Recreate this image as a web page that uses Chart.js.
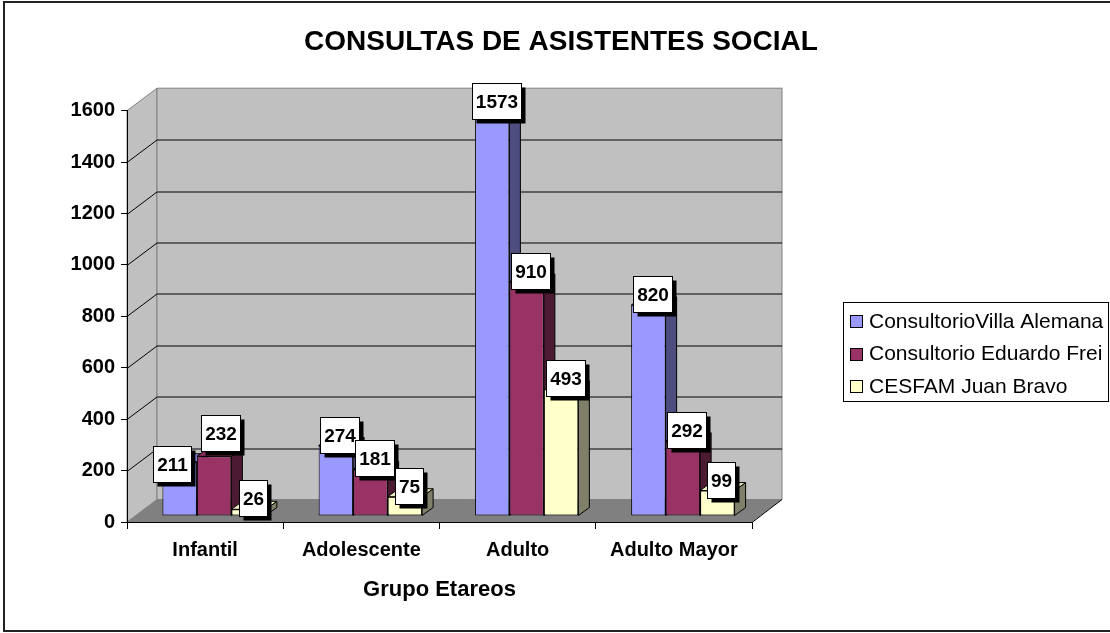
<!DOCTYPE html>
<html>
<head>
<meta charset="utf-8">
<script src="https://cdn.jsdelivr.net/npm/chart.js@4.4.0/dist/chart.umd.min.js"></script>
<style>
  body { margin: 0; background: #fff; }
  canvas { display: block; }
</style>
</head>
<body>
<canvas id="socialChart" width="1110" height="633"></canvas>
<script>
const categories = ['Infantil', 'Adolescente', 'Adulto', 'Adulto Mayor'];
const villaAlemana = [211, 274, 1573, 820];
const eduardoFrei = [232, 181, 910, 292];
const juanBravo = [26, 75, 493, 99];
const seriesNames = ['ConsultorioVilla Alemana', 'Consultorio Eduardo Frei', 'CESFAM Juan Bravo'];
const yTicks = [0, 200, 400, 600, 800, 1000, 1200, 1400, 1600];

const FONT = '"Liberation Sans", Arial, sans-serif';
const frontColors = ['#9999ff', '#993366', '#ffffcc'];
const sideColors = ['#4d4d80', '#4d1a33', '#80806a'];
const topColors = ['#8c8ce8', '#8a2e5c', '#ebebbc'];

const depth = { x: 30, y: -22.5 };   // depth of walls / floor
const shift = { x: 9, y: -6 };       // bars stand a bit back on the floor
const barDepth = { x: 11, y: -8 };   // depth of each column
// the two Infantil labels were moved apart in the original
const labelNudge = { '0-0': [-12, 13], '1-0': [2, -12] };

Chart.defaults.font.family = FONT;
Chart.defaults.color = '#000';

function poly(ctx, pts, fill, stroke) {
  ctx.beginPath();
  ctx.moveTo(pts[0][0], pts[0][1]);
  for (let i = 1; i < pts.length; i++) ctx.lineTo(pts[i][0], pts[i][1]);
  ctx.closePath();
  if (fill) { ctx.fillStyle = fill; ctx.fill(); }
  if (stroke) { ctx.strokeStyle = stroke; ctx.lineWidth = 1; ctx.stroke(); }
}

const wall3d = {
  id: 'wall3d',
  beforeDraw(chart) {
    const { ctx, chartArea: a } = chart;
    const ys = chart.scales.y;
    const dx = depth.x, dy = depth.y;
    ctx.save();
    // outer frame
    ctx.strokeStyle = '#222';
    ctx.lineWidth = 2;
    ctx.strokeRect(4, 2, 1120, 629);

    // left wall
    poly(ctx, [[a.left, a.top], [a.left + dx, a.top + dy], [a.left + dx, a.bottom + dy], [a.left, a.bottom]], '#c0c0c0', '#808080');
    // back wall
    poly(ctx, [[a.left + dx, a.top + dy], [a.right + dx, a.top + dy], [a.right + dx, a.bottom + dy], [a.left + dx, a.bottom + dy]], '#c0c0c0', '#808080');
    // floor
    poly(ctx, [[a.left, a.bottom], [a.right, a.bottom], [a.right + dx, a.bottom + dy], [a.left + dx, a.bottom + dy]], '#808080', null);
    ctx.strokeStyle = '#000';
    ctx.lineWidth = 1;
    ctx.beginPath();
    ctx.moveTo(a.right, a.bottom + 0.5);
    ctx.lineTo(a.right + dx, a.bottom + dy);
    ctx.stroke();

    // gridlines on the walls
    yTicks.forEach(v => {
      if (v === 0 || v === yTicks[yTicks.length - 1]) return;
      const y = Math.round(ys.getPixelForValue(v)) + 0.5;
      ctx.strokeStyle = '#000';
      ctx.beginPath();
      ctx.moveTo(a.left, y);
      ctx.lineTo(a.left + dx, y + dy);
      ctx.lineTo(a.right + dx, y + dy);
      ctx.stroke();
    });
    ctx.restore();
  },
  beforeDatasetDraw() {
    return false;
  },
  afterDatasetsDraw(chart) {
    const { ctx } = chart;
    const bx = barDepth.x, by = barDepth.y;
    ctx.save();
    ctx.translate(shift.x, shift.y);
    chart.data.datasets.forEach((ds, i) => {
      chart.getDatasetMeta(i).data.forEach(bar => {
        bar.draw(ctx);
        const { x, y, base, width } = bar.getProps(['x', 'y', 'base', 'width'], true);
        const l = x - width / 2, r = x + width / 2;
        poly(ctx, [[r, y], [r + bx, y + by], [r + bx, base + by], [r, base]], sideColors[i], '#000');
        poly(ctx, [[l, y], [l + bx, y + by], [r + bx, y + by], [r, y]], topColors[i], '#000');
      });
    });
    ctx.restore();

    // value labels
    ctx.save();
    ctx.font = 'bold 19px ' + FONT;
    ctx.textAlign = 'center';
    ctx.textBaseline = 'middle';
    chart.data.datasets.forEach((ds, i) => {
      chart.getDatasetMeta(i).data.forEach((bar, j) => {
        const { x, y } = bar.getProps(['x', 'y'], true);
        const n = labelNudge[i + '-' + j] || [0, 0];
        const cx = x + shift.x + 4 + n[0];
        const cy = y + shift.y - 11 + n[1];
        const text = String(ds.data[j]);
        const w = Math.round(ctx.measureText(text).width + 7), h = 36;
        const bl = Math.round(cx - w / 2) + 0.5, bt = Math.round(cy - h / 2) + 0.5;
        ctx.fillStyle = '#000';
        ctx.fillRect(bl + 4, bt + 4, w, h);
        ctx.fillStyle = '#fff';
        ctx.fillRect(bl, bt, w, h);
        ctx.strokeStyle = '#000';
        ctx.lineWidth = 1;
        ctx.strokeRect(bl, bt, w, h);
        ctx.fillStyle = '#000';
        ctx.fillText(text, bl + w / 2, bt + h / 2 + 1);
      });
    });
    ctx.restore();
  },
  afterDraw(chart) {
    const { ctx } = chart;
    ctx.save();
    // title
    ctx.fillStyle = '#000';
    ctx.font = 'bold 28px ' + FONT;
    ctx.textAlign = 'center';
    ctx.textBaseline = 'middle';
    ctx.fillText('CONSULTAS DE ASISTENTES SOCIAL', 561, 42);

    // legend
    const lx = 843.5, ly = 302.5, lw = 265, lh = 99;
    ctx.fillStyle = '#fff';
    ctx.fillRect(lx, ly, lw, lh);
    ctx.strokeStyle = '#000';
    ctx.lineWidth = 1;
    ctx.strokeRect(lx, ly, lw, lh);
    ctx.font = '21px ' + FONT;
    ctx.textAlign = 'left';
    seriesNames.forEach((name, i) => {
      const cy = 321 + i * 32.5;
      const sy = Math.round(cy - 6) + 0.5;
      ctx.fillStyle = frontColors[i];
      ctx.fillRect(850.5, sy, 12, 12);
      ctx.strokeStyle = '#000';
      ctx.strokeRect(850.5, sy, 12, 12);
      ctx.fillStyle = '#000';
      ctx.fillText(name, 869, cy + 1);
    });
    ctx.restore();
  }
};

const ctx = document.getElementById('socialChart').getContext('2d');
const socialChart = new Chart(ctx, {
  type: 'bar',
  data: {
    labels: categories,
    datasets: [
      { label: seriesNames[0], data: villaAlemana, backgroundColor: frontColors[0] },
      { label: seriesNames[1], data: eduardoFrei, backgroundColor: frontColors[1] },
      { label: seriesNames[2], data: juanBravo, backgroundColor: frontColors[2] }
    ]
  },
  options: {
    responsive: false,
    animation: false,
    layout: { padding: { top: 110.7, right: 358, left: 0, bottom: 0 } },
    datasets: {
      bar: {
        borderColor: '#000',
        borderWidth: 1,
        borderSkipped: false,
        categoryPercentage: 0.662,
        barPercentage: 1
      }
    },
    plugins: {
      legend: { display: false },
      title: { display: false },
      tooltip: { enabled: false }
    },
    scales: {
      x: {
        afterFit(scale) { scale.height = 111; },
        grid: { drawOnChartArea: false, drawTicks: true, tickLength: 7, color: '#000' },
        border: { display: true, color: '#000', width: 1 },
        ticks: { font: { size: 20, weight: 'bold' }, padding: 9, color: '#000' },
        title: {
          display: true,
          text: 'Grupo Etareos',
          font: { size: 22, weight: 'bold' },
          color: '#000',
          padding: { top: 0, bottom: 30 }
        }
      },
      y: {
        min: 0,
        max: 1600,
        afterFit(scale) { scale.width = 127; },
        afterBuildTicks(scale) { scale.ticks = yTicks.map(v => ({ value: v })); },
        grid: { drawOnChartArea: false, drawTicks: true, tickLength: 6, color: '#000' },
        border: { display: true, color: '#000', width: 1 },
        ticks: {
          font: { size: 20, weight: 'bold' },
          padding: 6,
          color: '#000',
          callback: v => String(v)
        }
      }
    }
  },
  plugins: [wall3d]
});
</script>
</body>
</html>
